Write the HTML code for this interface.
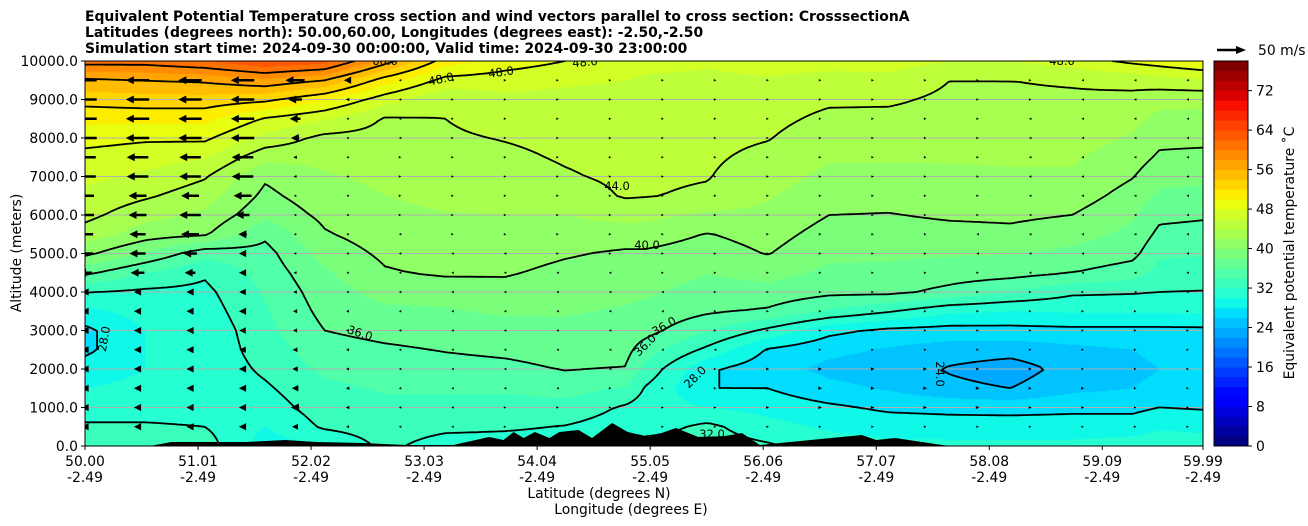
<!DOCTYPE html>
<html><head><meta charset="utf-8">
<style>
html,body{margin:0;padding:0;background:#fff;}
#wrap{position:relative;width:1308px;height:526px;overflow:hidden;font-family:"DejaVu Sans","Liberation Sans",sans-serif;}
canvas{position:absolute;left:85px;top:61px;}
svg{position:absolute;left:0;top:0;}
</style></head>
<body>
<div id="wrap">
<canvas id="fill" width="1118" height="385"></canvas>
<svg id="svg" width="1308" height="526" xmlns="http://www.w3.org/2000/svg">
  <g font-weight="bold" font-size="13.9" fill="#000">
    <text x="85" y="21">Equivalent Potential Temperature cross section and wind vectors parallel to cross section: CrosssectionA</text>
    <text x="85" y="37">Latitudes (degrees north): 50.00,60.00, Longitudes (degrees east): -2.50,-2.50</text>
    <text x="85" y="53">Simulation start time: 2024-09-30 00:00:00, Valid time: 2024-09-30 23:00:00</text>
  </g>
  <text font-size="13.9" text-anchor="middle" transform="translate(21,253) rotate(-90)">Altitude (meters)</text>
  <text font-size="13.9" text-anchor="middle" x="599" y="498">Latitude (degrees N)</text>
  <text font-size="13.9" text-anchor="middle" x="631" y="514">Longitude (degrees E)</text>
  <text font-size="13.9" text-anchor="middle" transform="translate(1294,253) rotate(-90)">Equivalent potential temperature ˚C</text>
  <g>
    <line x1="1217" y1="50" x2="1237" y2="50" stroke="#000" stroke-width="2.4"/>
    <polygon points="1246,50 1236,46 1236,54" fill="#000"/>
    <text x="1258" y="55" font-size="13.9">50 m/s</text>
  </g>
</svg>
</div>
<script>
// ---- data ----
const colLats = [50.00,50.54,51.07,51.61,52.14,52.68,53.22,53.75,54.29,54.83,55.01,55.56,56.10,56.65,57.18,57.73,58.27,58.82,59.36,59.60,59.99];
const altLevels = [0,500,1000,1500,2000,2500,3000,3500,4000,4500,5000,5500,6000,6500,7000,7500,8000,8500,9000,9500,10000];
const thetaCol0 = [33,32.3,31,30,29,27.5,27.5,29.5,32.1,36.5,40.5,43.1,44.6,45.5,46.5,47.4,48.7,50.6,52.8,55.6,61];
const thetaCol1 = [33.5,32.3,31,30.5,30,30,30,30.8,31.6,34,37.8,41,42.7,44.3,45.6,46.9,48.3,50.6,53.2,56,61];
const thetaCol2 = [33,32,31,30.5,30.5,30.5,30.5,31,31.5,32.3,34.7,40.3,41.6,42.9,44.2,46.2,48.4,50.6,53.2,56.4,62];
const thetaCol3 = [29,30,31,31.7,32.4,33,33.4,33.8,34.2,34.8,35.3,36.4,38.5,39.5,40.3,42.6,45.4,47.8,52.5,57.6,64];
const thetaCol4 = [30,32.3,33,33.6,34.4,35.2,36,36.6,37.1,37.7,38.8,39.8,40.5,41.2,41.8,42.6,43.4,46.3,50.3,56,63];
const thetaCol5 = [32.5,33,33.5,34.2,34.8,35.7,36.6,37.6,38.7,39.8,40.4,41,41.5,42,42.4,42.9,43.3,43.8,46.9,51,57];
const thetaCol6 = [31,32.5,33.2,34.3,35.3,36.1,36.9,37.8,38.8,40.3,40.9,41.4,41.9,42.5,42.9,43.3,43.7,44.0,44.3,47.3,51];
const thetaCol7 = [31,32.3,33.2,34.3,35.5,36.4,37.1,38.3,39.3,40.2,40.8,41.5,42,42.6,43.1,43.6,44.1,44.8,45.4,47,49];
const thetaCol8 = [31,31.9,33.3,34.8,36.1,36.8,37.5,38.2,38.8,39.5,40.2,41.2,42,42.9,43.8,44.2,44.5,44.9,45.2,46.5,48];
const thetaCol9 = [30.5,31,31.7,33.8,35.9,36.6,37.2,37.8,38.4,39.1,39.7,41,42.7,44.2,44.4,44.6,44.8,44.9,45,46,47];
const thetaCol10 = [33,31,31,31.8,33.4,35,36.7,37.5,38.3,39.1,39.7,41,42.6,44.1,44.3,44.5,44.6,44.8,45,45.8,46.5];
const thetaCol11 = [33,32.5,30,28,28.3,31.5,34.2,36.3,37.2,38.1,39,39.9,41.6,43.7,44.1,44.3,44.5,44.6,44.8,45.6,46.3];
const thetaCol12 = [32.3,30.7,29.3,28,26.8,27.8,31.5,35.7,37.3,38.7,40.1,40.8,41.5,42.2,42.9,43.5,44.1,44.5,44.8,45.8,46.8];
const thetaCol13 = [31,29.7,28.4,26.5,25.5,26.5,28.6,33.7,36.5,37.6,38.4,39.2,40,40.8,41.5,42.2,42.9,43.6,44.3,45.3,46.8];
const thetaCol14 = [30.5,29.2,27.6,25.8,25,25.8,27.5,32.2,36.5,37.6,38.3,39.1,39.9,40.8,41.5,42.2,42.9,43.5,44.3,45.3,47];
const thetaCol15 = [30.5,29,27.4,24.5,23.8,25,27.2,30.4,35.4,37,38.2,39.3,40.3,41,41.6,42.2,42.8,43.3,43.6,44,46];
const thetaCol16 = [30.5,29,27.3,24,23,24.8,27.3,30,34,36.8,38.1,39.5,40.4,41.1,41.7,42.3,42.9,43.3,43.7,44,46];
const thetaCol17 = [30.5,29,27.5,25.5,24.8,25.5,27.5,30.2,32.4,36,37.5,38.8,40,41,41.7,42.3,42.8,43.3,43.7,44.2,47];
const thetaCol18 = [31,29,27.5,26,25.5,26,27.5,30.2,32.2,35,36.6,37.5,38.3,39.2,40.1,40.9,41.8,42.6,43.4,44.7,48.5];
const thetaCol19 = [31,29.8,28,26.5,26,26.5,27.5,30.2,32,33.2,34.4,35.5,36.5,37.6,38.7,39.7,40.5,41.5,42.6,45.3,49];
const thetaCol20 = [31,29.5,27.8,26.5,26,26.5,27.5,30.5,31.9,33.2,34.1,35.2,36.3,37.4,38.5,39.5,40.5,41.5,42.5,45.8,50];
const thetaCols = [thetaCol0,thetaCol1,thetaCol2,thetaCol3,thetaCol4,thetaCol5,thetaCol6,thetaCol7,thetaCol8,thetaCol9,thetaCol10,thetaCol11,thetaCol12,thetaCol13,thetaCol14,thetaCol15,thetaCol16,thetaCol17,thetaCol18,thetaCol19,thetaCol20];
const contourLevels = [24,28,32,36,40,44,48,52,56,60,64];
const cbarTicks = [0,8,16,24,32,40,48,56,64,72];
const yTicks = [0,1000,2000,3000,4000,5000,6000,7000,8000,9000,10000];
const xTickLats = [50.00,51.01,52.02,53.03,54.04,55.05,56.06,57.07,58.08,59.09,59.99];
const xTickLons = ["-2.49","-2.49","-2.49","-2.49","-2.49","-2.49","-2.49","-2.49","-2.49","-2.49","-2.49"];
const terrainLat = [50.00,50.58,50.63,50.77,51.05,51.44,51.79,52.07,52.49,52.87,53.29,53.61,53.74,53.83,53.92,54.02,54.15,54.24,54.41,54.53,54.71,54.85,55.05,55.28,55.48,55.72,55.87,56.03,56.94,57.07,57.24,57.66,57.73,59.99];
const terrainAlt = [0,0,26,104,104,104,156,104,78,26,26,234,156,364,208,364,208,364,416,208,597,364,234,467,234,260,338,26,286,156,208,26,0,0];
const windAlts = [9500,9000,8500,8000,7500,7000,6500,6000,5500,5000,4500,4000,3500,3000,2500,2000,1500,1000,500];
const windLat0 = 50.0, windLatStep = 0.4692;
const windU9500 = [-39,-39,-39,-39,-32,-12,-3,-2,3,3,3,3,2,1,1,1,1,1,1,-1,-1,-2];
const windU9000 = [-39,-39,-39,-39,-23,-6,-2,2,3,3,3,3,2,1,1,1,1,1,1,-1,-1,-2];
const windU8500 = [-39,-39,-39,-39,-18,-4,-2,2,3,3,3,2,2,1,1,1,1,1,-1,-1,-1,-2];
const windU8000 = [-39,-39,-39,-39,-14,-3,-1,2,3,3,3,2,2,1,1,1,1,1,-1,-1,-1,-2];
const windU7500 = [-36,-36,-36,-36,-6,-2,1,2,2,2,2,2,1,1,1,1,1,1,-1,-1,-1,-1];
const windU7000 = [-36,-36,-36,-36,-5,-2,1,1,2,2,1,1,1,1,1,1,1,1,-1,-1,-1,-1];
const windU6500 = [-30,-30,-30,-30,-4,-2,1,1,1,1,1,1,1,1,1,1,1,1,-1,-1,-1,-1];
const windU6000 = [-30,-30,-36,-23,-3,-2,1,1,1,1,1,1,1,1,1,1,1,1,-1,-1,-1,-1];
const windU5500 = [-27,-27,-30,-14,-3,-2,-1,1,1,1,1,1,1,1,1,1,1,-1,-1,-1,-1,-1];
const windU5000 = [-27,-27,-23,-12,-4,-2,-1,-1,-1,1,1,1,1,1,1,1,1,-1,-1,-1,-1,-1];
const windU4500 = [-23,-23,-18,-12,-5,-3,-2,-1,-1,-1,-1,1,1,1,1,1,1,1,-1,-1,-1,-1];
const windU4000 = [-12,-12,-12,-11,-6,-4,-2,-1,-1,-1,-1,-1,1,1,1,1,1,1,1,1,-1,-1];
const windU3500 = [-12,-12,-12,-12,-7,-5,-2,-1,-1,-1,-1,-1,1,1,1,1,1,1,1,1,1,1];
const windU3000 = [-12,-12,-12,-11,-7,-5,-2,-1,-1,-1,-1,-1,1,1,2,2,2,2,2,2,1,1];
const windU2500 = [-12,-12,-12,-11,-8,-5,-2,-1,-1,-1,-1,-1,-1,2,3,3,3,3,3,2,2,2];
const windU2000 = [-12,-12,-12,-12,-9,-5,-2,-1,-1,-1,-1,1,3,5,6,6,6,5,5,4,4,3];
const windU1500 = [-12,-12,-12,-12,-11,-6,-2,-1,-1,-1,1,2,4,5,6,6,6,6,5,5,4,4];
const windU1000 = [-12,-12,-12,-12,-14,-6,-2,-1,1,2,3,3,4,5,6,6,6,6,5,5,4,4];
const windU500 = [-12,-12,-12,-12,-10,-5,-2,-1,1,1,2,2,3,3,3,3,3,3,3,2,2,2];
const windRows = [windU9500,windU9000,windU8500,windU8000,windU7500,windU7000,windU6500,windU6000,windU5500,windU5000,windU4500,windU4000,windU3500,windU3000,windU2500,windU2000,windU1500,windU1000,windU500];
const contourLabelText = ["48.0","48.0","48.0","44.0","40.0","36.0","28.0","24.0","28.0","36.0","36.0","60.0","48.0","32.0"];

// ---- axes ----
const PX=85, PY=61, PW=1118, PH=385;
const xScale = lat => PX + (lat-50)/9.99*PW;
const yScale = alt => PY + PH - alt/10000*PH;
const cbY = v => 446 - v/78*385;
const NS="http://www.w3.org/2000/svg";
const svg=document.getElementById('svg');
function mk(tag,attrs,parent){const e=document.createElementNS(NS,tag);for(const k in attrs)e.setAttribute(k,attrs[k]);(parent||svg).appendChild(e);return e;}

function interp(xs,ys,x){if(x<=xs[0])return ys[0];for(let i=1;i<xs.length;i++){if(x<=xs[i]){const t=(x-xs[i-1])/(xs[i]-xs[i-1]);return ys[i-1]+t*(ys[i]-ys[i-1]);}}return ys[ys.length-1];}
function jet(t){
  const r=interp([0,0.35,0.66,0.89,1],[0,0,1,1,0.5],t);
  const g=interp([0,0.125,0.375,0.64,0.91,1],[0,0,1,1,0,0],t);
  const b=interp([0,0.11,0.34,0.65,1],[0.5,1,1,0,0],t);
  return [Math.round(r*255),Math.round(g*255),Math.round(b*255)];
}
function bandColor(v){let i=Math.floor(v/2);if(i<0)i=0;if(i>38)i=38;return jet(i/38);}
function theta(lat,alt){
  let ci=0;while(ci<colLats.length-2&&lat>colLats[ci+1])ci++;
  let tx=(lat-colLats[ci])/(colLats[ci+1]-colLats[ci]);tx=Math.max(0,Math.min(1,tx));
  let rf=alt/500;let ri=Math.floor(rf);if(ri>=altLevels.length-1)ri=altLevels.length-2;if(ri<0)ri=0;
  let ty=Math.max(0,Math.min(1,rf-ri));
  const a=thetaCols[ci][ri],b=thetaCols[ci+1][ri],c=thetaCols[ci][ri+1],d=thetaCols[ci+1][ri+1];
  return (a*(1-tx)+b*tx)*(1-ty)+(c*(1-tx)+d*tx)*ty;
}
const latOf = px => 50 + px/PW*9.99;
const altOf = py => (PH-py)/PH*10000;

// fill
const ctx=document.getElementById('fill').getContext('2d');
const img=ctx.createImageData(PW,PH);
for(let y=0;y<PH;y++){const alt=altOf(y+0.5);for(let x=0;x<PW;x++){const c=bandColor(theta(latOf(x+0.5),alt));const o=(y*PW+x)*4;img.data[o]=c[0];img.data[o+1]=c[1];img.data[o+2]=c[2];img.data[o+3]=255;}}
ctx.putImageData(img,0,0);

mk('clipPath',{id:'plotclip'}).appendChild((()=>{const r=document.createElementNS(NS,'rect');r.setAttribute('x',PX);r.setAttribute('y',PY);r.setAttribute('width',PW);r.setAttribute('height',PH);return r;})());

// gridlines
const grid=mk('g',{});
yTicks.forEach(a=>{if(a>0&&a<10000){const l=mk('line',{x1:PX,x2:PX+PW,y1:yScale(a),y2:yScale(a),stroke:'#b0b0b0','stroke-width':1},grid);

}});

// contour lines (marching squares)
const S=3, nx=Math.ceil(PW/S)+1, ny=Math.ceil(PH/S)+1;
const F=[];for(let j=0;j<ny;j++){const row=[];for(let i=0;i<nx;i++){row.push(theta(latOf(Math.min(i*S,PW)),altOf(Math.min(j*S,PH))));}F.push(row);}
const cg=mk('g',{'clip-path':'url(#plotclip)'});
contourLevels.forEach(lv=>{
  let d='';
  for(let j=0;j<ny-1;j++)for(let i=0;i<nx-1;i++){
    const v=[F[j][i],F[j][i+1],F[j+1][i+1],F[j+1][i]];
    const p=[[i,j],[i+1,j],[i+1,j+1],[i,j+1]];
    const pts=[];
    for(let e=0;e<4;e++){const a=v[e],b=v[(e+1)%4];if((a<lv)!==(b<lv)){const t=(lv-a)/(b-a);const pa=p[e],pb=p[(e+1)%4];pts.push([PX+(pa[0]+t*(pb[0]-pa[0]))*S,PY+(pa[1]+t*(pb[1]-pa[1]))*S]);}}
    if(pts.length===2)d+=`M${pts[0][0].toFixed(1)} ${pts[0][1].toFixed(1)}L${pts[1][0].toFixed(1)} ${pts[1][1].toFixed(1)}`;
    else if(pts.length===4)d+=`M${pts[0][0].toFixed(1)} ${pts[0][1].toFixed(1)}L${pts[1][0].toFixed(1)} ${pts[1][1].toFixed(1)}M${pts[2][0].toFixed(1)} ${pts[2][1].toFixed(1)}L${pts[3][0].toFixed(1)} ${pts[3][1].toFixed(1)}`;
  }
  const path=mk('path',{d:d,stroke:'#000','stroke-width':1.8,fill:'none','stroke-linecap':'round'},cg);
  
  
});

// contour labels
const labelPos=[[441,83,-12],[501,76,-8],[585,66,-5],[617,190,0],[647,249,0],[360,337,18],[104,343,-80],[940,378,90],[695,381,-45],[645,349,-45],[664,330,-30],[385,65,0],[1062,65,0],[712,438,0]];
const lg=mk('g',{'clip-path':'url(#plotclip)'});
contourLabelText.forEach((t,i)=>{const p=labelPos[i];const e=mk('text',{x:p[0],y:p[1],'font-size':11.5,'text-anchor':'middle',transform:`rotate(${p[2]} ${p[0]} ${p[1]-4})`},lg);e.textContent=t;

});

// terrain
let td=`M${xScale(terrainLat[0])} ${PY+PH}`;
terrainLat.forEach((l,i)=>{td+=`L${xScale(l).toFixed(1)} ${yScale(terrainAlt[i]).toFixed(1)}`;});
td+=`L${xScale(terrainLat[terrainLat.length-1])} ${PY+PH}Z`;
const terr=mk('path',{d:td,fill:'#000'});



// wind arrows
const KPX=0.6;
const wg=mk('g',{'clip-path':'url(#plotclip)'});
windRows.forEach((row,r)=>{
  const cy=yScale(windAlts[r]);
  row.forEach((u,k)=>{
    const cx=xScale(windLat0+k*windLatStep);
    let L=Math.abs(u)*KPX; const dir=u<0?-1:1;
    let hl=8,hw=8,sw=2.6;
    if(L<hl){const s=Math.max(L,2.5)/hl;hl*=s;hw*=s;sw*=s;L=hl;}
    const x0=cx-dir*L/2, x1=cx+dir*L/2, xb=x1-dir*hl;
    const pts=`${x0},${cy-sw/2} ${xb},${cy-sw/2} ${xb},${cy-hw/2} ${x1},${cy} ${xb},${cy+hw/2} ${xb},${cy+sw/2} ${x0},${cy+sw/2}`;
    const a=mk('polygon',{points:pts,fill:'#000'},wg);
    
    
  });
});

// frame + ticks
const ax=mk('g',{});
mk('rect',{x:PX,y:PY,width:PW,height:PH,fill:'none',stroke:'#000','stroke-width':1},ax);
yTicks.forEach(a=>{const y=yScale(a);mk('line',{x1:PX-4,x2:PX,y1:y,y2:y,stroke:'#000'},ax);const t=mk('text',{x:PX-7,y:y+5,'font-size':13.9,'text-anchor':'end'},ax);t.textContent=a.toFixed(1);

});
xTickLats.forEach((l,i)=>{const x=xScale(l);mk('line',{x1:x,x2:x,y1:PY+PH,y2:PY+PH+4,stroke:'#000'},ax);
const t=mk('text',{x:x,y:466,'font-size':13.9,'text-anchor':'middle'},ax);t.textContent=l.toFixed(2);


const t2=mk('text',{x:x,y:482,'font-size':13.9,'text-anchor':'middle'},ax);t2.textContent=xTickLons[i];

});

// colorbar
const cb=mk('g',{});
for(let i=0;i<39;i++){const c=jet(i/38);const y0=cbY((i+1)*2),y1=cbY(i*2);
const r=mk('rect',{x:1214,y:y0,width:34,height:(y1-y0)+0.4,fill:`rgb(${c[0]},${c[1]},${c[2]})`},cb);

}
mk('rect',{x:1214,y:61,width:34,height:385,fill:'none',stroke:'#000','stroke-width':1},cb);
cbarTicks.forEach(v=>{const y=cbY(v);mk('line',{x1:1248,x2:1252,y1:y,y2:y,stroke:'#000'},cb);const t=mk('text',{x:1256,y:y+5,'font-size':13.9},cb);t.textContent=v;

});
</script>
</body></html>
